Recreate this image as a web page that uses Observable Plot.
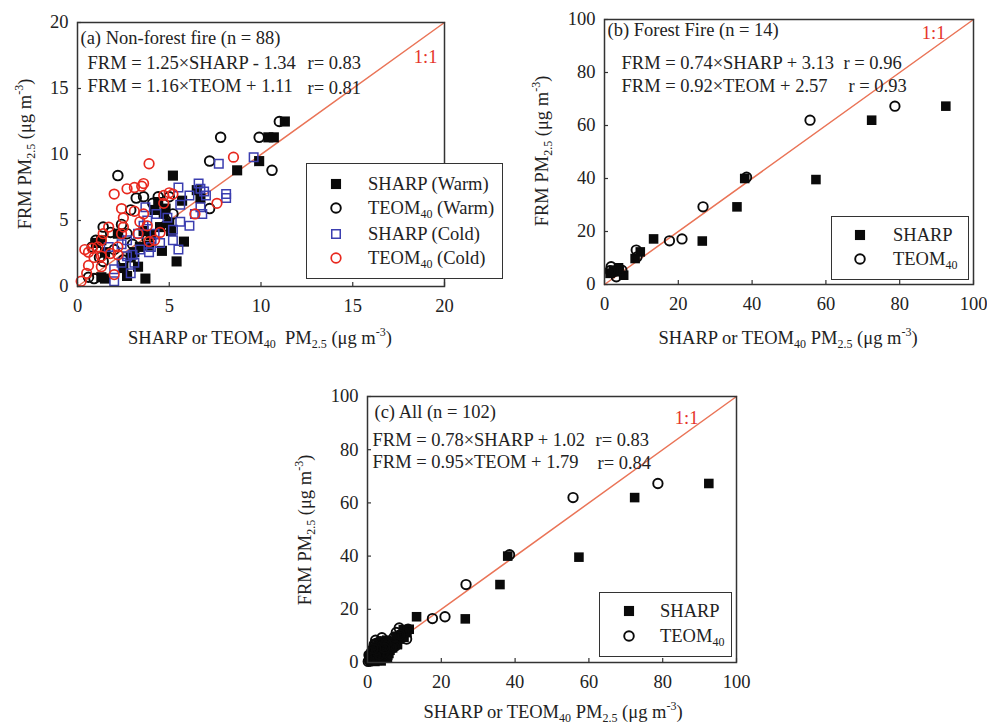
<!DOCTYPE html>
<html><head><meta charset="utf-8">
<script src="https://cdn.jsdelivr.net/npm/d3@7"></script>
<script src="https://cdn.jsdelivr.net/npm/@observablehq/plot@0.6"></script>
<style>
body{margin:0;background:#fff;}
#fig{position:relative;width:987px;height:725px;overflow:hidden;font-family:"Liberation Serif","Times New Roman",serif;color:#222;background:#fff;}
.panel{position:absolute;}
.lab{position:absolute;font-size:18.5px;white-space:nowrap;transform:translate(-50%,-50%);}
.ylab{transform:translate(-50%,-50%) rotate(-90deg);}
sub,sup{font-size:12px;line-height:0;}
.legend{position:absolute;border:1.5px solid #333;background:#fff;box-sizing:border-box;}
.row{position:absolute;font-size:18.5px;white-space:nowrap;transform:translateY(-50%);}
.sym{position:absolute;transform:translate(-50%,-50%);}
</style>
</head><body><div id="fig"></div>
<script>
// ---------- data ----------
const ticksA = [0, 5, 10, 15, 20];
const ticksBC = [0, 20, 40, 60, 80, 100];
const oneToOneA = [0, 20];
const oneToOneBC = [0, 100];

// (a) Non-forest fire: [instrument PM2.5, FRM PM2.5]
const sharpWarm = [[11.3,12.5],[10.4,11.3],[10.7,11.3],[9.9,9.5],[8.7,8.8],[5.2,8.4],[5.8,3.4],[5.4,1.9],[3.7,0.6],[2.7,0.8],[1.3,0.7],[1.5,0.6],[3.3,1.5],[3.4,3.0],[3.9,3.1],[5.1,4.2],[4.7,5.5],[4.5,4.5],[5.7,6.5],[4.2,5.8],[6.7,6.7],[6.5,7.3],[4.4,6.4],[3.1,2.6],[2.5,1.4],[1.3,3.5],[1.0,3.3],[2.2,4.0],[4.0,3.9],[1.5,2.6],[2.9,2.2],[4.8,5.9],[3.6,4.2],[4.6,2.7],[5.0,4.8]];
const teomWarm = [[11.0,12.5],[9.9,11.3],[7.8,11.3],[7.2,9.5],[10.6,8.8],[2.2,8.4],[7.2,5.9],[3.6,6.8],[3.2,6.7],[2.4,4.7],[1.4,4.5],[2.7,4.0],[1.0,3.5],[1.4,1.9],[0.6,0.7],[0.9,0.6],[4.8,4.6],[5.2,5.5],[2.9,5.8],[2.0,2.8],[1.8,4.1],[4.1,6.3],[4.4,6.8],[3.8,3.6],[1.2,2.2],[0.8,3.0],[3.0,3.2],[5.0,6.8],[2.5,2.0]];
const sharpCold = [[9.6,9.8],[7.7,9.3],[6.6,7.8],[6.7,7.4],[6.9,7.2],[8.1,7.0],[8.1,6.7],[7.0,6.9],[5.5,7.5],[6.1,6.9],[5.6,6.2],[6.7,6.0],[6.4,5.5],[6.8,5.5],[6.1,4.6],[5.6,4.9],[5.2,4.3],[5.2,3.5],[5.5,2.8],[3.7,6.0],[3.8,5.0],[4.2,4.0],[3.4,2.8],[3.9,2.6],[2.7,2.3],[2.4,1.8],[2.9,1.0],[2.0,0.4],[2.0,1.3],[3.1,1.8],[2.4,3.2],[3.3,4.0],[4.5,3.3],[4.9,5.2],[4.3,5.5],[2.7,3.5],[1.7,3.0],[3.0,2.4],[3.6,4.6],[4.0,3.0]];
const teomCold = [[8.5,9.8],[3.9,9.3],[3.6,7.8],[3.1,7.5],[2.7,7.4],[2.0,7.0],[3.5,7.6],[7.6,6.3],[6.4,5.5],[4.7,6.9],[5.2,7.0],[5.0,7.1],[2.4,5.9],[2.5,5.2],[3.1,5.7],[3.4,4.9],[3.8,4.6],[4.5,4.1],[3.3,4.0],[1.7,4.5],[1.4,4.0],[1.3,3.5],[1.1,3.0],[0.8,2.9],[0.4,2.8],[0.6,2.6],[0.9,2.2],[1.3,2.3],[0.6,1.6],[0.2,0.4],[0.5,1.0],[2.0,0.9],[1.8,2.5],[2.2,2.4],[2.4,4.0],[2.5,4.5],[3.9,3.4],[4.2,3.5],[2.2,3.0],[1.3,1.5],[3.6,5.5],[4.7,6.3]];

// (b) Forest fire
const forestSharp = [[92.5,67.3],[72.4,62.0],[57.3,39.6],[38.0,40.0],[35.9,29.3],[26.5,16.4],[13.3,17.2],[9.7,12.3],[8.3,9.8],[5.2,3.5],[3.3,4.8],[2.4,5.4],[3.8,6.3],[1.5,4.2]];
const forestTeom = [[78.7,67.3],[55.7,62.0],[38.5,40.5],[26.7,29.3],[21.0,17.2],[17.6,16.5],[8.6,13.0],[8.8,10.4],[1.8,6.7],[3.2,2.9],[3.8,6.0],[2.4,4.8],[4.7,5.4],[1.5,5.2]];

// (c) All
const allSharp = [...sharpWarm, ...sharpCold, ...forestSharp];
const allTeom = [...teomWarm, ...teomCold, ...forestTeom];

const titlesAll = ["(a) Non-forest fire (n = 88)", "(b) Forest Fire (n = 14)", "(c) All (n = 102)"];
const eqA = ["FRM = 1.25×SHARP - 1.34", "FRM = 1.16×TEOM + 1.11"], rA = ["r= 0.83", "r= 0.81"];
const eqB = ["FRM = 0.74×SHARP + 3.13", "FRM = 0.92×TEOM + 2.57"], rB = ["r = 0.96", "r = 0.93"];
const eqC = ["FRM = 0.78×SHARP + 1.02", "FRM = 0.95×TEOM + 1.79"], rC = ["r= 0.83", "r= 0.84"];
const legendA = ["SHARP (Warm)", "TEOM<sub>40</sub> (Warm)", "SHARP (Cold)", "TEOM<sub>40</sub> (Cold)"];
const legendBC = ["SHARP", "TEOM<sub>40</sub>"];
const xLabelA = "SHARP or TEOM<sub>40</sub>&nbsp; PM<sub>2.5</sub> (μg m<sup>-3</sup>)";
const xLabelBC = "SHARP or TEOM<sub>40</sub> PM<sub>2.5</sub> (μg m<sup>-3</sup>)";
const yLabel = "FRM PM<sub>2.5</sub> (μg m<sup>-3</sup>)";

// ---------- styles ----------
const FONT = '"Liberation Serif","Times New Roman",serif';
const BLACK_SQ = {symbol: "square", fill: "#0a0a0a", stroke: "none", r: 5.7};
const BLACK_CI = {symbol: "circle", fill: "none", stroke: "#0a0a0a", r: 4.8, strokeWidth: 1.9};
const BLUE_SQ = {symbol: "square", fill: "none", stroke: "#3b3eb0", r: 4.8, strokeWidth: 1.5};
const RED_CI = {symbol: "circle", fill: "none", stroke: "#e8281e", r: 4.8, strokeWidth: 1.7};

const fig = document.getElementById("fig");

function panel(o) {
  const fw = o.w - o.ml - o.mr, fh = o.h - o.mt - o.mb;
  const marks = [
    Plot.axisX({ticks: o.ticks, tickSize: 0, tickPadding: 12, label: null, fontSize: 18.5}),
    Plot.axisY({ticks: o.ticks, tickSize: 0, tickPadding: 9, label: null, fontSize: 18.5}),
    Plot.tickX(o.ticks, {x: d => d, insetTop: fh - 4, stroke: "#333", strokeWidth: 1.2}),
    Plot.tickY(o.ticks, {y: d => d, insetRight: fw - 4, stroke: "#333", strokeWidth: 1.2}),
    Plot.line(o.one.map(v => [v, v]), {x: d => d[0], y: d => d[1], stroke: "#ea7457", strokeWidth: 1.5})
  ];
  for (const s of o.series) {
    marks.push(Plot.dot(s.data, {x: d => d[0], y: d => d[1], ...s.style}));
  }
  for (const n of o.notes) {
    marks.push(Plot.text([n.text], {text: d => d, frameAnchor: n.anchor || "top-left", textAnchor: n.textAnchor || "start", lineAnchor: "middle", dx: n.dx, dy: n.dy, fontSize: 18.5, fill: n.fill || "#222", fontFamily: FONT}));
  }
  marks.push(Plot.frame({stroke: "#333", strokeWidth: 1.5}));
  const svg = Plot.plot({
    width: o.w, height: o.h, marginLeft: o.ml, marginTop: o.mt, marginRight: o.mr, marginBottom: o.mb,
    x: {domain: o.dom}, y: {domain: o.dom},
    style: {fontFamily: FONT, fontSize: "18.5px", color: "#222", background: "transparent", overflow: "visible"},
    marks
  });
  svg.classList.add("panel");
  svg.style.left = o.left + "px";
  svg.style.top = o.top + "px";
  fig.appendChild(svg);
}

function label(html, x, y, rot) {
  const d = document.createElement("div");
  d.className = "lab" + (rot ? " ylab" : "");
  d.style.left = x + "px"; d.style.top = y + "px";
  d.innerHTML = html;
  fig.appendChild(d);
}

function legend(box, labels, styles) {
  const d = document.createElement("div");
  d.className = "legend";
  Object.assign(d.style, {left: box.x + "px", top: box.y + "px", width: box.w + "px", height: box.h + "px"});
  labels.forEach((lab, i) => {
    const st = styles[i];
    const sym = document.createElementNS("http://www.w3.org/2000/svg", "svg");
    sym.setAttribute("width", 16); sym.setAttribute("height", 16);
    sym.setAttribute("class", "sym");
    sym.style.left = box.sx + "px"; sym.style.top = box.rows[i] + "px";
    const size = Math.PI * st.r * st.r;
    const p = document.createElementNS("http://www.w3.org/2000/svg", "path");
    p.setAttribute("d", d3.symbol(st.symbol === "square" ? d3.symbolSquare : d3.symbolCircle, size)());
    p.setAttribute("transform", "translate(8,8)");
    p.setAttribute("fill", st.fill); p.setAttribute("stroke", st.stroke);
    p.setAttribute("stroke-width", st.strokeWidth || 0);
    sym.appendChild(p);
    d.appendChild(sym);
    const t = document.createElement("div");
    t.className = "row";
    t.style.left = box.tx + "px"; t.style.top = box.rows[i] + "px";
    t.innerHTML = lab;
    d.appendChild(t);
  });
  fig.appendChild(d);
}

// (a)
panel({left: 0, top: 0, w: 510, h: 360, ml: 77, mt: 22, mr: 66, mb: 74, dom: oneToOneA, ticks: ticksA, one: oneToOneA,
  series: [{data: sharpWarm, style: BLACK_SQ}, {data: teomWarm, style: BLACK_CI}, {data: sharpCold, style: BLUE_SQ}, {data: teomCold, style: RED_CI}],
  notes: [
    {text: titlesAll[0], dx: 3, dy: 16},
    {text: eqA[0], dx: 10, dy: 41}, {text: rA[0], dx: 230, dy: 41},
    {text: eqA[1], dx: 10, dy: 64}, {text: rA[1], dx: 230, dy: 66},
    {text: "1:1", anchor: "top-right", textAnchor: "end", dx: -7, dy: 35, fill: "#e5332a"}
  ]});
// (b)
panel({left: 510, top: 0, w: 477, h: 360, ml: 94, mt: 19, mr: 14, mb: 76, dom: oneToOneBC, ticks: ticksBC, one: oneToOneBC,
  series: [{data: forestSharp, style: {...BLACK_SQ, r: 5.4}}, {data: forestTeom, style: {...BLACK_CI, r: 4.7}}],
  notes: [
    {text: titlesAll[1], dx: 3, dy: 11},
    {text: eqB[0], dx: 17, dy: 44}, {text: rB[0], dx: 239, dy: 44},
    {text: eqB[1], dx: 17, dy: 67}, {text: rB[1], dx: 244, dy: 67},
    {text: "1:1", anchor: "top-right", textAnchor: "end", dx: -28, dy: 14, fill: "#e5332a"}
  ]});
// (c)
panel({left: 280, top: 370, w: 480, h: 355, ml: 87, mt: 26, mr: 24, mb: 63, dom: oneToOneBC, ticks: ticksBC, one: oneToOneBC,
  series: [{data: allSharp, style: {...BLACK_SQ, r: 5.4}}, {data: allTeom, style: {...BLACK_CI, r: 4.7}}],
  notes: [
    {text: titlesAll[2], dx: 7, dy: 16},
    {text: eqC[0], dx: 5, dy: 44}, {text: rC[0], dx: 228, dy: 44},
    {text: eqC[1], dx: 5, dy: 66}, {text: rC[1], dx: 230, dy: 67},
    {text: "1:1", anchor: "top-right", textAnchor: "end", dx: -38, dy: 22, fill: "#e5332a"}
  ]});

label(xLabelA, 260, 338);
label(xLabelBC, 788, 338);
label(xLabelBC, 553, 712);
label(yLabel, 25, 154, true);
label(yLabel, 542, 151, true);
label(yLabel, 305, 530, true);

legend({x: 306, y: 163, w: 197, h: 116, sx: 29, tx: 61, rows: [20, 44, 70, 94]}, legendA, [BLACK_SQ, BLACK_CI, BLUE_SQ, RED_CI]);
legend({x: 831, y: 216, w: 138, h: 64, sx: 28, tx: 61, rows: [18, 42]}, legendBC, [BLACK_SQ, BLACK_CI]);
legend({x: 599, y: 592, w: 133, h: 65, sx: 29, tx: 60, rows: [18, 43]}, legendBC, [BLACK_SQ, BLACK_CI]);
</script>
</body></html>
